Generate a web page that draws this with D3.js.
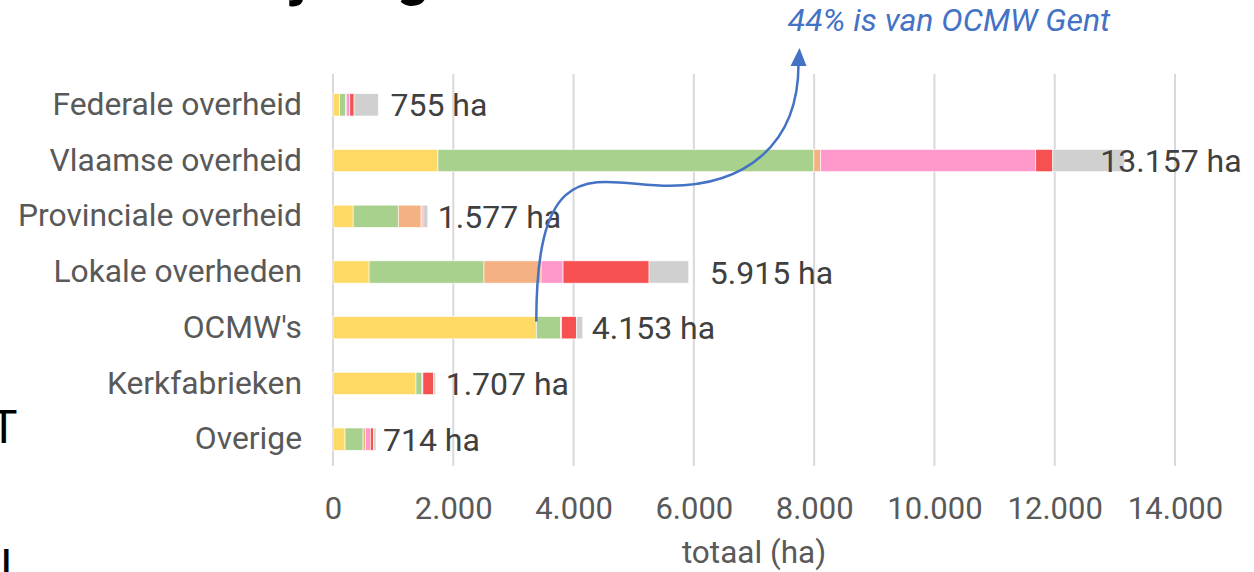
<!DOCTYPE html>
<html>
<head>
<meta charset="utf-8">
<script src="https://cdn.jsdelivr.net/npm/d3@7"></script>
<style>
  html, body { margin: 0; padding: 0; background: #fff; overflow: hidden; }
  svg { display: block; font-family: Roboto, "Noto Sans", sans-serif; }
</style>
</head>
<body>
<div class="container"></div>
<script>
// categories, top to bottom
const categories = ['Federale overheid', 'Vlaamse overheid', 'Provinciale overheid', 'Lokale overheden', "OCMW's", 'Kerkfabrieken', 'Overige'];
// segment series (left to right in every bar)
const seriesKeys = ['geel', 'groen', 'oranje', 'roze', 'rood', 'grijs'];
const seriesColors = ['#FFD966', '#A9D18E', '#F4B183', '#FF99CC', '#F65050', '#D0D0D0'];
const geel = [110, 1745, 335, 600, 3380, 1380, 200];
const groen = [100, 6250, 750, 1910, 400, 100, 300];
const oranje = [10, 115, 380, 950, 10, 5, 40];
const roze = [60, 3575, 10, 365, 10, 10, 80];
const rood = [70, 283, 20, 1430, 250, 180, 50];
const grijs = [405, 1189, 82, 660, 103, 32, 44];
const totals = [755, 13157, 1577, 5915, 4153, 1707, 714];
const xTicks = [0, 2000, 4000, 6000, 8000, 10000, 12000, 14000];
// label nudges (px) as placed in the original
const labelNudge = [12, -24, 10, 21, 9, 10, 7];

const width = 1254;
const height = 572;
const left = 333;
const right = 1175;

const nl = d3.formatLocale({ decimal: ',', thousands: '.', grouping: [3], currency: ['€', ''] });
const fmt = nl.format(',d');

const rows = categories.map((c, i) => ({
  cat: c, geel: geel[i], groen: groen[i], oranje: oranje[i], roze: roze[i], rood: rood[i], grijs: grijs[i]
}));
const stacked = d3.stack().keys(seriesKeys)(rows);

const svg = d3.select('.container').append('svg').attr('width', width).attr('height', height);

const x = d3.scaleLinear().domain([0, 14000]).range([left, right]);
const y = d3.scaleBand().domain(categories).range([77, 467]).paddingInner(0.6).paddingOuter(0.3);

// gridlines
svg.append('g').attr('class', 'grid')
  .selectAll('line').data(xTicks).enter().append('line')
  .attr('x1', d => x(d)).attr('x2', d => x(d))
  .attr('y1', 74).attr('y2', 466)
  .attr('stroke', '#D9D9D9').attr('stroke-width', 2);

// x axis labels
const xAxis = d3.axisBottom(x).tickValues(xTicks).tickFormat(d => fmt(d)).tickSize(0).tickPadding(0);
const xg = svg.append('g').attr('transform', 'translate(0,497)').call(xAxis);
xg.select('.domain').remove();
xg.selectAll('text').attr('font-size', 31).attr('fill', '#595959').attr('dy', '0.71em').attr('font-family', 'Roboto');

// y axis labels
const yAxis = d3.axisLeft(y).tickSize(0).tickPadding(31);
const yg = svg.append('g').attr('transform', `translate(${left},0)`).call(yAxis);
yg.select('.domain').remove();
yg.selectAll('text').attr('font-size', 31.8).attr('fill', '#595959').attr('font-family', 'Roboto');

// bars
svg.append('g').attr('class', 'bars')
  .selectAll('g').data(stacked).enter().append('g')
  .attr('fill', (d, i) => seriesColors[i])
  .selectAll('rect').data(d => d).enter().append('rect')
  .attr('x', d => x(d[0]))
  .attr('y', d => y(d.data.cat))
  .attr('width', d => Math.max(0, x(d[1]) - x(d[0])))
  .attr('height', y.bandwidth())
  .attr('stroke', '#fff').attr('stroke-width', 0.6);

// total labels
svg.append('g').attr('class', 'totals')
  .selectAll('text').data(categories).enter().append('text')
  .attr('x', (c, i) => x(totals[i]) + labelNudge[i])
  .attr('y', c => y(c) + y.bandwidth() / 2)
  .attr('dy', '0.36em')
  .attr('font-size', 32).attr('fill', '#404040')
  .text((c, i) => `${fmt(totals[i])} ha`);

// axis title
svg.append('text')
  .attr('x', (left + right) / 2).attr('y', 563)
  .attr('text-anchor', 'middle').attr('font-size', 31.5).attr('fill', '#595959')
  .text('totaal (ha)');

// annotation arrow: from end of OCMW yellow segment up to the note
const arrowColor = '#4472C4';
const x0 = x(geel[4]);
const y0 = y("OCMW's") + 5;
const x1 = x(7740);
const y1 = 64;
const xm = (x0 + x1) / 2 + 2;
const ym = y(categories[1]) + y.bandwidth() + 14;
const path = d3.path();
path.moveTo(x0, y0);
path.bezierCurveTo(x0, ym - 40, xm - 70, ym, xm, ym);
path.bezierCurveTo(xm + 75, ym, x1, ym - 40, x1, y1);
svg.append('path').attr('d', path.toString())
  .attr('fill', 'none').attr('stroke', arrowColor).attr('stroke-width', 2.5);
svg.append('path')
  .attr('d', `M${x1 - 8},${y1 + 2} L${x1 + 8},${y1 + 2} L${x1 + 1},${y1 - 16} Z`)
  .attr('fill', arrowColor);

svg.append('text')
  .attr('x', 949).attr('y', 31)
  .attr('text-anchor', 'middle').attr('font-size', 32).attr('font-style', 'italic')
  .attr('fill', arrowColor)
  .text('44% is van OCMW Gent');

// title, mostly above the visible area
const title = svg.append('text')
  .attr('y', -5).attr('font-size', 56).attr('font-weight', 'bold').attr('fill', '#000')
  .text('Welke overheden zijn eigenaar');
const tNode = title.node();
const jIdx = title.text().indexOf('j');
title.attr('x', 292 - tNode.getSubStringLength(0, jIdx));

// fragments of neighbouring slide text at the left edge
svg.append('text').attr('x', -10).attr('y', 443).attr('font-size', 46).attr('fill', '#000').text('T');
svg.append('text').attr('x', 0).attr('y', 582).attr('font-size', 46).attr('fill', '#000').text('I');
</script>
</body>
</html>
